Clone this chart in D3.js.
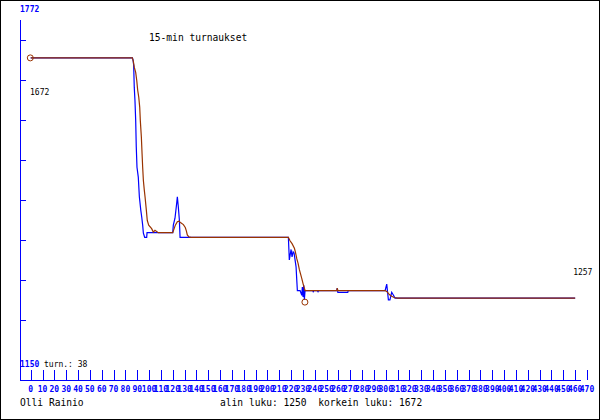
<!DOCTYPE html>
<html><head><meta charset="utf-8">
<script src="https://cdn.jsdelivr.net/npm/d3@7/dist/d3.min.js"></script>
<style>body{margin:0;background:#fff}svg{display:block}text{font-family:"DejaVu Sans Mono",monospace}</style>
</head><body>
<script>
// ---- data ----
const title = "15-min turnaukset";
const author = "Olli Rainio";
const minValue = 1250, maxValue = 1672, turns = 38;
const yMin = 1150, yMax = 1772;
const xTicks = d3.range(0, 471, 10);
// blue series: [time, value]
const blueT = [0,85.9,86.5,87.0,87.5,88.1,88.7,89.2,89.8,90.9,91.8,93.0,93.8,94.6,95.2,96.3,98.0,98.3,99.4,120.0,120.5,121.9,123.4,123.9,124.7,125.6,126.2,217.7,218.5,220.0,220.8,221.7,222.5,224.2,224.8,225.3,227.6,229.0,229.5,230.1,230.7,231.2,231.8,238.5,238.7,239.0,242.5,242.7,243.0,258.6,259.0,259.5,267.9,268.2,299.4,300.8,302.2,303.5,305.0,306.5,307.8,315.7,460];
const blueV = [1672,1672,1668,1659,1621,1598,1564,1518,1483,1466,1432,1409,1397,1383,1369,1362,1362,1370,1370,1370,1383,1395,1422,1432,1415,1392,1362,1362,1323,1341,1328,1337,1335,1311,1288,1270,1270,1262,1276,1259,1279,1254,1270,1270,1267,1270,1270,1267,1270,1270,1274,1267,1267,1270,1270,1281,1254,1254,1267,1262,1257,1257,1257];
// brown series (smoothed)
const brownT = [0,85.9,86.7,87.5,88.7,89.6,90.4,91.3,92.1,92.6,93.5,94.1,94.6,95.2,96.0,96.6,97.7,98.5,99.7,102.2,103.6,105.0,107.8,120.0,122.2,123.9,125.3,126.8,129.0,130.6,131.5,132.3,133.5,135.5,217.7,219.1,220.8,222.8,223.6,224.8,225.9,227.0,227.8,229.0,230.1,231.2,231.8,258.6,259.0,259.5,299.4,301.0,303.0,305.0,307.0,310.0,460];
const brownV = [1672,1672,1666,1656,1647,1633,1616,1604,1587,1564,1535,1506,1483,1460,1443,1432,1409,1391,1383,1377,1371,1374,1370,1370,1383,1389,1390,1387,1384,1379,1373,1366,1363,1362,1362,1356,1351,1343,1337,1325,1317,1306,1300,1291,1282,1274,1270,1270,1274,1270,1270,1268,1263,1260,1258,1257,1257];
const startPoint = [0, 1672];
const minPoint = [232.0, 1250];
const endPoint = [460, 1257];

const W = 600, H = 420;
const svg = d3.select("body").append("svg").attr("width", W).attr("height", H);
svg.append("rect").attr("x",0.5).attr("y",0.5).attr("width",599).attr("height",419)
  .attr("fill","#fff").attr("stroke","#000");

const x = d3.scaleLinear().domain([0, 470]).range([30.7, 587]);
const yAxis = d3.scaleLinear().domain([yMin, yMax]).range([380, 20]);
const y = v => yAxis(v) - 20;

const blue = "#0000ff", brown = "#993300";

// axes
svg.append("line").attr("x1",20.5).attr("x2",20.5).attr("y1",20).attr("y2",381).attr("stroke",blue);
svg.append("line").attr("x1",20).attr("x2",581).attr("y1",380.5).attr("y2",380.5).attr("stroke",blue);
d3.range(40, 330, 40).forEach(py => {
  const v = yAxis.invert(py);
  svg.append("line").attr("x1",21).attr("x2",26).attr("y1",Math.round(yAxis(v))+0.5).attr("y2",Math.round(yAxis(v))+0.5).attr("stroke",blue);
});
xTicks.forEach(t => {
  const px = Math.round(x(t)) + 0.5;
  svg.append("line").attr("x1",px).attr("x2",px).attr("y1",370).attr("y2",380).attr("stroke",blue);
  svg.append("text").attr("x",x(t)).attr("y",392).attr("text-anchor","middle")
    .attr("font-size",8).attr("font-weight","bold").attr("fill",blue).text(t);
});
svg.append("text").attr("x",20).attr("y",12).attr("font-size",8).attr("font-weight","bold").attr("fill",blue).text(yMax);
svg.append("text").attr("x",20).attr("y",367).attr("font-size",8).attr("font-weight","bold").attr("fill",blue).text(yMin);
svg.append("text").attr("x",44).attr("y",367).attr("font-size",8).attr("fill","#000").text("turn.: " + turns);

// lines
const line = d3.line().x(d => x(d[0])).y(d => y(d[1]));
const blueData = blueT.map((t,i) => [t, blueV[i]]);
const brownData = brownT.map((t,i) => [t, brownV[i]]);
svg.append("path").attr("d", line(blueData)).attr("fill","none").attr("stroke",blue).attr("stroke-width",1.2);
svg.append("path").attr("d", line(brownData)).attr("fill","none").attr("stroke",brown).attr("stroke-width",1.2);

// markers
[startPoint, minPoint].forEach(p => {
  svg.append("circle").attr("cx",x(p[0])-0.4).attr("cy",y(p[1])).attr("r",3).attr("fill","none").attr("stroke",brown);
});
svg.append("text").attr("x",x(startPoint[0])-0.7).attr("y",y(startPoint[1])+37).attr("font-size",8).attr("fill","#000").text(startPoint[1]);
svg.append("text").attr("x",x(endPoint[0])-2).attr("y",y(endPoint[1])-23).attr("font-size",8).attr("fill","#000").text(endPoint[1]);

// titles
svg.append("text").attr("x",149).attr("y",41).attr("font-size",9.6).attr("fill","#000").text(title);
svg.append("text").attr("x",20).attr("y",406).attr("font-size",9.6).attr("fill","#000").text(author);
svg.append("text").attr("x",220).attr("y",406).attr("font-size",9.6).attr("fill","#000").attr("xml:space","preserve")
  .style("white-space","pre").text("alin luku: " + minValue + "  korkein luku: " + maxValue);
</script>
</body></html>
